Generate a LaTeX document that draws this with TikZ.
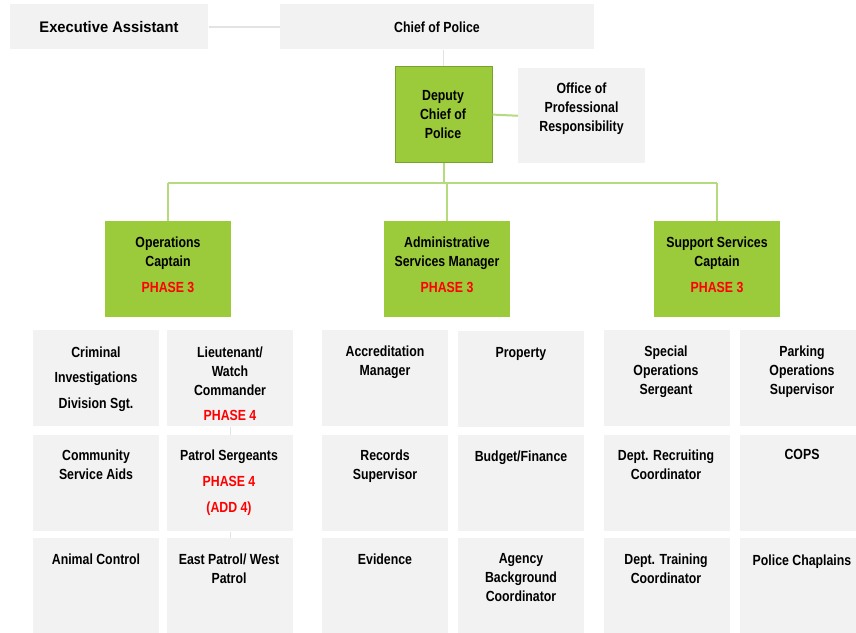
\documentclass[tikz,border=0pt]{standalone}
\usepackage{fontspec}
\setmainfont{Liberation Sans}[FakeStretch=0.84]
\newfontfamily\execfont{Liberation Sans}[FakeStretch=0.96]
\definecolor{boxgray}{HTML}{F2F2F2}
\definecolor{boxgreen}{HTML}{9BCB3A}
\definecolor{greenedge}{HTML}{78A22E}
\definecolor{linegreen}{HTML}{B6DA7E}
\definecolor{linegray}{HTML}{E3E3E3}
\definecolor{phasered}{HTML}{FF0000}
\begin{document}
\begin{tikzpicture}[x=0.75pt,y=-0.75pt,
  graybox/.style={fill=boxgray,draw=none,inner sep=0pt,anchor=north west},
  greenbox/.style={fill=boxgreen,draw=none,inner sep=0pt,anchor=north west},
  label/.style={font=\fontsize{11pt}{14.25pt}\selectfont\bfseries,align=center,anchor=north,inner sep=0pt},
  glink/.style={draw=linegreen,line width=1.5pt},
  slink/.style={draw=linegray,line width=1.2pt},
  thinlink/.style={draw=linegray,line width=0.8pt}]
\useasboundingbox (0,0) rectangle (856,632);
\clip (0,0) rectangle (856,632);
\fill[white] (0,0) rectangle (856,632);

% top level
\node[graybox,minimum width=198*0.75pt,minimum height=45*0.75pt] (exec) at (10,4) {};
\node[graybox,minimum width=314*0.75pt,minimum height=45*0.75pt] (chief) at (280,4) {};
\node[label,anchor=center,font=\execfont\fontsize{11.5pt}{14.25pt}\selectfont\bfseries] (execT) at (109,27) {Executive Assistant};
\node[label,anchor=center] (chiefT) at (437,27) {Chief of Police};

\node[greenbox,draw=greenedge,line width=0.9pt,minimum width=97*0.75pt,minimum height=96*0.75pt] (dep) at (394.5,66) {};
\node[label,anchor=center] (depT) at (443,115) {Deputy\\Chief of\\Police};
\node[graybox,minimum width=127*0.75pt,minimum height=95*0.75pt] (opr) at (518,68) {};
\node[label] (oprT) at (581.5,82.5) {Office of\\Professional\\Responsibility};

% level 2
\node[greenbox,minimum width=126*0.75pt,minimum height=96*0.75pt] (ops) at (105,221) {};
\node[greenbox,minimum width=126*0.75pt,minimum height=96*0.75pt] (adm) at (384,221) {};
\node[greenbox,minimum width=126*0.75pt,minimum height=96*0.75pt] (sup) at (654,221) {};
\node[label] (opsT) at (168,236.5) {Operations\\Captain\\[5.25pt]\textcolor{phasered}{PHASE 3}};
\node[label] (admT) at (447,236.5) {Administrative\\Services Manager\\[5.25pt]\textcolor{phasered}{PHASE 3}};
\node[label] (supT) at (717,236.5) {Support Services\\Captain\\[5.25pt]\textcolor{phasered}{PHASE 3}};

% connectors
\coordinate (bar) at (443,183);
\draw[slink] (exec.east) -- (chief.west);
\draw[slink] (chief.south -| dep.north) -- (dep.north);
\draw[glink] (dep.east) -- (opr.west);
\draw[glink] (dep.south) -- (dep.south |- bar);
\draw[glink] (ops.north |- bar) -- (sup.north |- bar);
\draw[glink] (ops.north |- bar) -- (ops.north);
\draw[glink] (adm.north |- bar) -- (adm.north);
\draw[glink] (sup.north |- bar) -- (sup.north);

% grid boxes
\foreach \nm/\xx/\yy in {
  a1/33/330, a2/33/435, a3/33/538,
  b1/167/330, b2/167/435, b3/167/538,
  c1/322/330, c2/322/435, c3/322/538,
  d1/458/331, d2/458/435, d3/458/538,
  e1/604/330, e2/604/435, e3/604/538,
  f1/740/330, f2/740/435, f3/740/538}{
  \node[graybox,minimum width=126*0.75pt,minimum height=96*0.75pt] (\nm) at (\xx,\yy) {};
}
\draw[thinlink] (b1.south) -- (b2.north);
\draw[thinlink] (b2.south) -- (b3.north);

% grid labels
\node[label] (a1T) at (96,346.5) {Criminal\\[4.9pt]Investigations\\[4.9pt]Division Sgt.};
\node[label] (a2T) at (96,449.5) {Community\\Service Aids};
\node[label] (a3T) at (96,553.5) {Animal Control};

\node[label] (b1T) at (230,346.5) {Lieutenant/\\Watch\\Commander\\[4.5pt]\textcolor{phasered}{PHASE 4}};
\node[label] (b2T) at (229,449.5) {Patrol Sergeants\\[5.25pt]\textcolor{phasered}{PHASE 4}\\[5.5pt]\textcolor{phasered}{(ADD 4)}};
\node[label] (b3T) at (229,553.5) {East Patrol/ West\\Patrol};

\node[label] (c1T) at (385,345.5) {Accreditation\\Manager};
\node[label] (c2T) at (385,449.5) {Records\\Supervisor};
\node[label] (c3T) at (385,553.5) {Evidence};

\node[label] (d1T) at (521,347) {Property};
\node[label] (d2T) at (521,450.5) {Budget/Finance};
\node[label] (d3T) at (521,553.5) {Agency\\Background\\Coordinator};

\node[label] (e1T) at (666,345.5) {Special\\Operations\\Sergeant};
\node[label] (e2T) at (666,449.5) {Dept. Recruiting\\Coordinator};
\node[label] (e3T) at (666,553.5) {Dept. Training\\Coordinator};

\node[label] (f1T) at (802,345.5) {Parking\\Operations\\Supervisor};
\node[label] (f2T) at (802,448.5) {COPS};
\node[label] (f3T) at (802,554.5) {Police Chaplains};
\end{tikzpicture}
\end{document}
